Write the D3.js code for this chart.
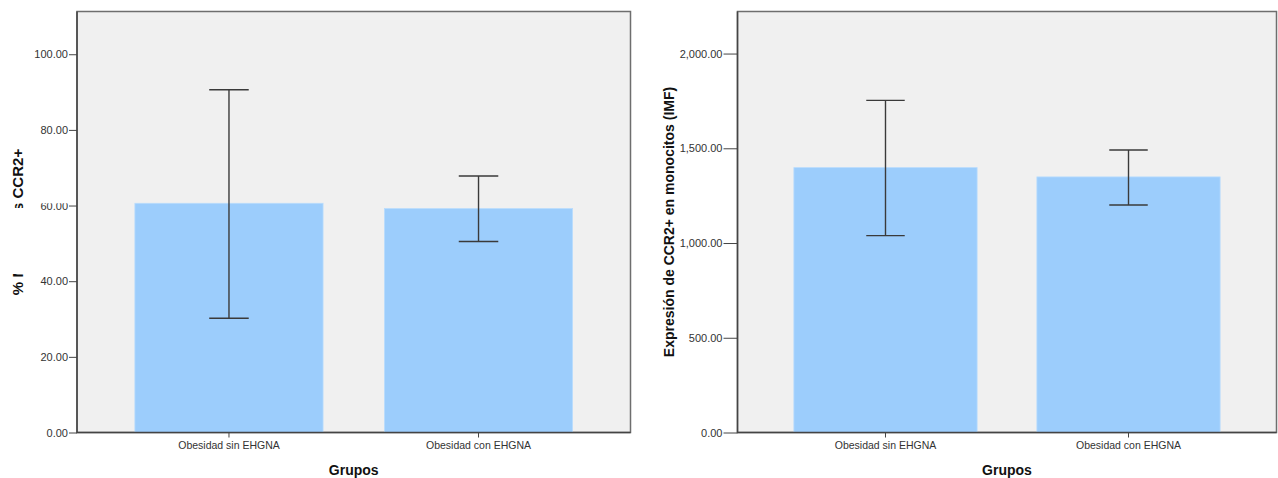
<!DOCTYPE html>
<html lang="es">
<head>
<meta charset="UTF-8">
<title>CCR2+ en monocitos por grupo</title>
<script src="https://d3js.org/d3.v7.min.js"></script>
<style>
  body { margin: 0; background: #fff; }
  svg { display: block; font-family: "Liberation Sans", Arial, sans-serif; }
  .tick text { fill: #333; }
  .axis-title { font-weight: bold; fill: #111; }
</style>
</head>
<body>
<svg width="1278" height="478"></svg>
<script>
// datos
var grupos = ['Obesidad sin EHGNA', 'Obesidad con EHGNA'];

var pctMedia = [60.6, 59.2];
var pctInf = [30.2, 50.5];
var pctSup = [90.6, 67.8];
var pctTicks = [0, 20, 40, 60, 80, 100];

var imfMedia = [1398, 1349];
var imfInf = [1039, 1201];
var imfSup = [1753, 1491];
var imfTicks = [0, 500, 1000, 1500, 2000];

var svg = d3.select('svg');

function grafico(opt) {
    var x0 = opt.left, x1 = opt.right, y0 = 11.5, y1 = 432.5;
    var g = svg.append('g');

    var xScale = d3.scaleBand()
        .domain(grupos)
        .range([x0, x1])
        .paddingInner(0.246)
        .paddingOuter(0.232);

    var yScale = d3.scaleLinear()
        .domain([0, opt.max])
        .range([y1, y0]);

    var rows = grupos.map((d, i) => ({ grupo: d, media: opt.media[i], inf: opt.inf[i], sup: opt.sup[i] }));

    // fondo del area
    g.append('rect')
        .attr('x', x0).attr('y', y0)
        .attr('width', x1 - x0).attr('height', y1 - y0)
        .attr('fill', '#f0f0f0')
        .attr('stroke', '#6e6e6e')
        .attr('stroke-width', 1.5);

    g.selectAll('.bar').data(rows)
        .enter().append('rect')
        .attr('class', 'bar')
        .attr('x', d => xScale(d.grupo))
        .attr('y', d => yScale(d.media))
        .attr('width', xScale.bandwidth())
        .attr('height', d => yScale(0) - yScale(d.media))
        .attr('fill', '#9ccdfc')
        .attr('stroke', '#b9dcfd')
        .attr('stroke-width', 0.8);

    // barras de error
    var cap = xScale.bandwidth() * 0.105;
    var eb = g.selectAll('.err').data(rows)
        .enter().append('g')
        .attr('class', 'err')
        .attr('stroke', '#3a3a3a')
        .attr('stroke-width', 1.4);
    eb.append('line')
        .attr('x1', d => xScale(d.grupo) + xScale.bandwidth() / 2)
        .attr('x2', d => xScale(d.grupo) + xScale.bandwidth() / 2)
        .attr('y1', d => yScale(d.inf))
        .attr('y2', d => yScale(d.sup));
    eb.append('line')
        .attr('x1', d => xScale(d.grupo) + xScale.bandwidth() / 2 - cap)
        .attr('x2', d => xScale(d.grupo) + xScale.bandwidth() / 2 + cap)
        .attr('y1', d => yScale(d.sup))
        .attr('y2', d => yScale(d.sup));
    eb.append('line')
        .attr('x1', d => xScale(d.grupo) + xScale.bandwidth() / 2 - cap)
        .attr('x2', d => xScale(d.grupo) + xScale.bandwidth() / 2 + cap)
        .attr('y1', d => yScale(d.inf))
        .attr('y2', d => yScale(d.inf));

    var yAxis = d3.axisLeft(yScale)
        .tickValues(opt.ticks)
        .tickFormat(d3.format(',.2f'))
        .tickSize(opt.tick)
        .tickPadding(1);
    var yAxisG = g.append('g')
        .attr('transform', `translate(${x0},0)`)
        .call(yAxis);
    yAxisG.select('.domain').remove();
    yAxisG.selectAll('.tick line').attr('stroke', '#444');
    yAxisG.selectAll('.tick text').attr('font-size', 11);

    var xAxis = d3.axisBottom(xScale)
        .tickSize(5)
        .tickPadding(4);
    var xAxisG = g.append('g')
        .attr('transform', `translate(0,${y1})`)
        .call(xAxis);
    xAxisG.select('.domain').remove();
    xAxisG.selectAll('.tick line').attr('stroke', '#444');
    xAxisG.selectAll('.tick text').attr('font-size', 10.5).attr('fill', '#222');

    // borde izquierdo e inferior
    g.append('path')
        .attr('d', `M${x0},${y0}V${y1}H${x1}`)
        .attr('fill', 'none')
        .attr('stroke', '#444')
        .attr('stroke-width', 1.5);

    g.append('text')
        .attr('class', 'axis-title')
        .attr('x', (x0 + x1) / 2)
        .attr('y', 475)
        .attr('text-anchor', 'middle')
        .attr('font-size', 14)
        .text('Grupos');

    g.append('text')
        .attr('class', 'axis-title')
        .attr('transform', `translate(${opt.labelX},${(y0 + y1) / 2}) rotate(-90)`)
        .attr('text-anchor', 'middle')
        .attr('dy', '0.35em')
        .attr('font-size', opt.labelSize)
        .text(opt.label);
}

grafico({ left: 77, right: 630.5, max: 111.3, ticks: pctTicks, tick: 8,
    media: pctMedia, inf: pctInf, sup: pctSup, labelX: 18, labelSize: 15, label: '% Monocitos CCR2+' });

grafico({ left: 737.5, right: 1276.5, max: 2222, ticks: imfTicks, tick: 14,
    media: imfMedia, inf: imfInf, sup: imfSup, labelX: 669, labelSize: 14, label: 'Expresión de CCR2+ en monocitos (IMF)' });

// en el original parte del titulo izquierdo queda tapada
svg.append('rect').attr('x', 0).attr('y', 199.5).attr('width', 68).attr('height', 3.8).attr('fill', '#fff');
svg.append('rect').attr('x', 0).attr('y', 208).attr('width', 36).attr('height', 66).attr('fill', '#fff');
</script>
</body>
</html>
